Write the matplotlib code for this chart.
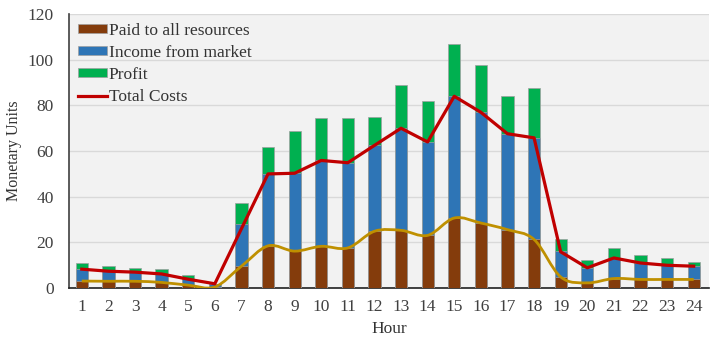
import numpy as np
import matplotlib.pyplot as plt
from matplotlib.path import Path
from matplotlib.patches import PathPatch

hours = list(range(1, 25))
profit_top = [11.0, 9.7, 8.6, 8.2, 5.7, 1.6, 37.2, 61.7, 68.6, 74.5, 74.5, 74.8,
              89.1, 81.8, 107.1, 97.5, 84.0, 87.6, 21.4, 12.1, 17.6, 14.4, 13.2, 11.5]
income = [8.3, 7.6, 7.0, 6.4, 4.0, 1.6, 28.0, 50.0, 50.3, 55.9, 54.9, 62.5,
          70.0, 64.0, 84.0, 77.0, 67.6, 65.8, 16.4, 9.0, 13.2, 11.0, 10.0, 9.6]
total_costs = [8.3, 7.4, 7.0, 6.2, 3.9, 1.9, 26.0, 50.0, 50.3, 55.9, 54.9, 62.5,
               70.0, 64.0, 84.0, 77.0, 67.6, 65.8, 15.9, 8.9, 13.2, 11.0, 10.0, 9.6]
paid = [3.1, 3.0, 3.0, 2.5, 1.3, 0.5, 9.6, 18.5, 16.2, 18.3, 17.6, 24.9,
        25.3, 23.1, 30.7, 28.5, 25.6, 21.3, 4.9, 2.3, 4.2, 3.8, 3.8, 3.8]

BROWN = "#843C0C"
BLUE = "#2E75B6"
GREEN = "#00B050"
RED = "#C00000"
GOLD = "#BF9000"


def smoothPath(x, y):
    # Excel-style smoothed line as cubic bezier segments
    x = np.asarray(x, float)
    y = np.asarray(y, float)
    verts = [(x[0], y[0])]
    codes = [Path.MOVETO]
    n = len(x)
    for i in range(n - 1):
        p0 = (x[max(i - 1, 0)], y[max(i - 1, 0)])
        p1 = (x[i], y[i])
        p2 = (x[i + 1], y[i + 1])
        p3 = (x[min(i + 2, n - 1)], y[min(i + 2, n - 1)])
        c1 = (p1[0] + (p2[0] - p0[0]) / 6, p1[1] + (p2[1] - p0[1]) / 6)
        c2 = (p2[0] - (p3[0] - p1[0]) / 6, p2[1] - (p3[1] - p1[1]) / 6)
        verts += [c1, c2, p2]
        codes += [Path.CURVE4] * 3
    return Path(verts, codes)


plt.rcParams['font.family'] = ['Liberation Serif', 'DejaVu Serif']

fig = plt.figure(figsize=(7.16, 3.43), dpi=100)
ax = fig.add_axes([0.0964, 0.160, 0.894, 0.799])
ax.set_facecolor("#F2F2F2")

w = 0.46
ax.bar(hours, profit_top, w, color=GREEN, edgecolor="#A0A0A0", linewidth=0.5,
       label="Profit", zorder=2)
ax.bar(hours, income, w, color=BLUE, edgecolor="#A0A0A0", linewidth=0.5,
       label="Income from market", zorder=3)
ax.bar(hours, paid, w, color=BROWN, edgecolor="#A0A0A0", linewidth=0.5,
       label="Paid to all resources", zorder=4)
ax.plot(hours, total_costs, color=RED, linewidth=2.3, label="Total Costs", zorder=6)
ax.add_patch(PathPatch(smoothPath(hours, paid), facecolor="none", edgecolor=GOLD,
                       linewidth=2.0, zorder=5))

ax.set_xlim(0.52, 24.58)
ax.set_ylim(0, 120)
ax.set_yticks(range(0, 121, 20))
ax.set_xticks(hours)
ax.yaxis.grid(True, color="#D9D9D9", linewidth=1.0, zorder=0)
ax.set_axisbelow(True)
for s in ["top", "right"]:
    ax.spines[s].set_visible(False)
ax.spines["left"].set_color("#404040")
ax.spines["bottom"].set_color("#202020")
ax.spines["left"].set_linewidth(1.2)
ax.spines["bottom"].set_linewidth(1.2)
ax.tick_params(axis="both", length=0, labelsize=12.5, colors="#404040", pad=8)
ax.tick_params(axis="y", pad=11)

ax.set_xlabel("Hour", fontsize=12.5, color="#333333", labelpad=4)
ax.set_ylabel("Monetary Units", fontsize=11.5, color="#333333", labelpad=4)

handles, labels = ax.get_legend_handles_labels()
order = ["Paid to all resources", "Income from market", "Profit", "Total Costs"]
hmap = dict(zip(labels, handles))
leg = ax.legend([hmap[k] for k in order], order, loc="upper left", frameon=False,
                fontsize=12.5, handlelength=1.7, handleheight=0.45, handletextpad=0.1,
                labelspacing=0.35, borderaxespad=0.1, bbox_to_anchor=(0.0, 1.0))
for t in leg.get_texts():
    t.set_color("#333333")

fig.savefig("out.png", dpi=100)
